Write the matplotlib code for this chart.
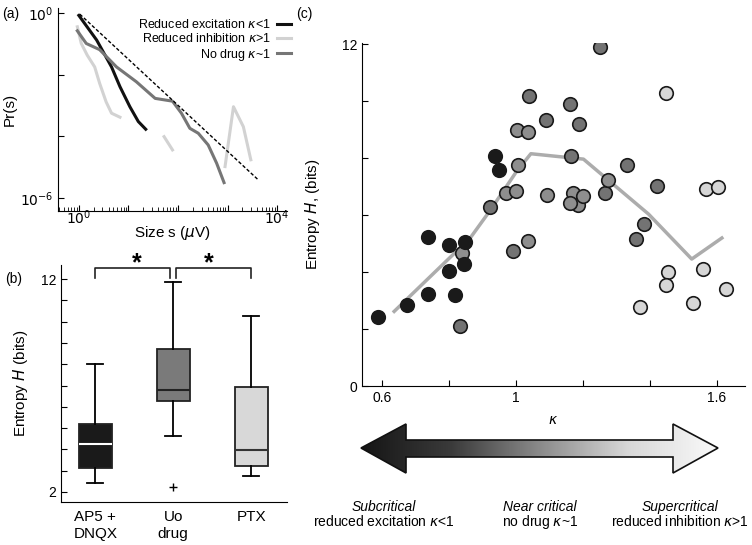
import matplotlib
matplotlib.use("Agg")
import matplotlib.pyplot as plt
import numpy as np
from matplotlib.patches import Polygon
from matplotlib.colors import LinearSegmentedColormap

plt.rcParams["font.family"] = ["Liberation Sans", "DejaVu Sans"]
plt.rcParams["mathtext.fontset"] = "dejavusans"

# ---- panel (a): avalanche size distributions (log10 units) ----
exc_logs = [0.0, 0.36, 0.66, 0.83, 1.03, 1.2, 1.35]
exc_logp = [-0.08, -0.88, -1.75, -2.39, -3.04, -3.52, -3.77]
inh_logs = [-0.03, 0.05, 0.17, 0.32, 0.42, 0.55, 0.66, 0.83, np.nan, 1.72, 1.89, np.nan, 2.95, 3.12, 3.32, 3.47]
inh_logp = [-0.45, -0.99, -1.37, -1.75, -2.28, -2.88, -3.25, -3.38, np.nan, -4.01, -4.44, np.nan, -4.98, -3.04, -3.69, -4.76]
nod_logs = [-0.03, 0.15, 0.42, 0.76, 1.16, 1.54, 1.89, 2.07, 2.24, 2.41, 2.61, 2.78, 2.93]
nod_logp = [-0.58, -0.99, -1.19, -1.75, -2.23, -2.77, -2.86, -3.25, -3.74, -3.90, -4.28, -4.87, -5.50]
fit_logs = [0.02, 3.62]
fit_logp = [-0.04, -5.41]

# ---- panel (b): entropy box plots ----
groups = ["AP5 +\nDNQX", "Uo\ndrug", "PTX"]
box_low = [2.42, 4.62, 2.74]
box_q1 = [3.13, 6.28, 3.24]
box_med = [4.27, 6.78, 3.99]
box_q3 = [5.18, 8.71, 6.94]
box_high = [8.03, 11.87, 10.26]
box_fliers = [[], [2.24], []]
star_x = [1.53, 2.46]

# ---- panel (c): entropy vs kappa ----
exc_k = [0.59, 0.675, 0.739, 0.739, 0.80, 0.80, 0.819, 0.849, 0.846, 0.939, 0.949]
exc_h = [2.43, 2.85, 5.22, 3.23, 4.97, 4.03, 3.18, 5.06, 4.28, 8.08, 7.60]
nod1_k = [1.039, 1.25, 1.09, 1.163, 1.19, 1.165, 1.332, 1.42, 1.358, 1.383, 1.266, 0.832, 0.993, 0.922]
nod1_h = [10.2, 11.9, 9.36, 9.91, 9.2, 8.08, 7.77, 7.03, 5.18, 5.7, 6.79, 2.1, 4.73, 6.29]
nod2_k = [1.005, 1.037, 1.007, 0.972, 1.0, 1.092, 1.172, 1.185, 1.2, 1.162, 1.274, 0.84, 1.035]
nod2_h = [9.0, 8.92, 7.77, 6.77, 6.85, 6.72, 6.77, 6.37, 6.69, 6.43, 7.24, 4.67, 5.09]
inh_k = [1.447, 1.567, 1.603, 1.454, 1.447, 1.37, 1.528, 1.558, 1.628]
inh_h = [10.28, 6.91, 7.0, 4.01, 3.56, 2.78, 2.90, 4.11, 3.42]
mean_k = [0.637, 0.864, 0.923, 1.003, 1.045, 1.202, 1.396, 1.525, 1.615]
mean_h = [2.62, 5.20, 6.16, 7.55, 8.16, 7.97, 6.04, 4.46, 5.20]

W, H = 752, 545
fig = plt.figure(figsize=(W / 100, H / 100), dpi=100)

# ================= (a) =================
axa = fig.add_axes([58 / W, 1 - 211 / H, 229 / W, 203 / H])
axa.plot(10 ** np.array(exc_logs), 10 ** np.array(exc_logp), color="#111111", lw=2.2, label=r"Reduced excitation $\kappa$<1")
axa.plot(10 ** np.array(inh_logs), 10 ** np.array(inh_logp), color="#d2d2d2", lw=2.2, label=r"Reduced inhibition $\kappa$>1")
axa.plot(10 ** np.array(nod_logs), 10 ** np.array(nod_logp), color="#767676", lw=2.2, label=r"No drug $\kappa$~1")
axa.plot(10 ** np.array(fit_logs), 10 ** np.array(fit_logp), color="black", lw=1, ls=(0, (2.5, 1.5)))
axa.set_xscale("log")
axa.set_yscale("log")
axa.set_xlim(10 ** -0.42, 10 ** 4.2)
axa.set_ylim(10 ** -6.42, 10 ** 0.16)
axa.set_yticks([1e0, 1e-2, 1e-4, 1e-6])
axa.set_yticklabels([r"$10^0$", "", "", r"$10^{-6}$"])
axa.yaxis.set_minor_locator(matplotlib.ticker.NullLocator())
axa.set_xticks([1e0, 1e1, 1e2, 1e3, 1e4])
axa.set_xticklabels([r"$10^0$", "", "", "", r"$10^4$"])
axa.xaxis.set_minor_locator(matplotlib.ticker.LogLocator(base=10, subs=np.arange(2, 10), numticks=20))
axa.tick_params(direction="in", labelsize=10, length=4, width=0.8)
axa.tick_params(axis="x", pad=-2)
axa.tick_params(axis="x", which="minor", direction="in", length=3, width=0.6)
for s in ["top", "right"]:
    axa.spines[s].set_visible(False)
axa.set_xlabel(r"Size s ($\mu$V)", fontsize=11, labelpad=-2)
axa.set_ylabel("Pr(s)", fontsize=11, labelpad=2)
axa.legend(loc="upper right", bbox_to_anchor=(1.04, 0.975), frameon=False, markerfirst=False,
           fontsize=9, handlelength=1.1, handletextpad=0.5, labelspacing=0.1, borderaxespad=0)
fig.text(2 / W, 1 - 14 / H, "(a)", fontsize=10, va="center")

# ================= (b) =================
axb = fig.add_axes([61 / W, 1 - 502 / H, 226 / W, 237 / H])
stats = []
for i in range(3):
    stats.append(dict(whislo=box_low[i], q1=box_q1[i], med=box_med[i], q3=box_q3[i],
                      whishi=box_high[i], fliers=box_fliers[i], label=groups[i]))
bp = axb.bxp(stats, positions=[1, 2, 3], widths=0.42, capwidths=0.2, patch_artist=True,
             flierprops=dict(marker="+", markeredgecolor="black", markersize=6),
             boxprops=dict(linewidth=1.3), whiskerprops=dict(linewidth=1.3),
             capprops=dict(linewidth=1.3), medianprops=dict(linewidth=1.5))
box_colors = ["#1a1a1a", "#7a7a7a", "#d8d8d8"]
med_colors = ["white", "#222222", "#333333"]
for patch, c in zip(bp["boxes"], box_colors):
    patch.set_facecolor(c)
    patch.set_edgecolor("#222222")
for m, c in zip(bp["medians"], med_colors):
    m.set_color(c)
axb.set_xlim(0.56, 3.46)
axb.set_ylim(1.53, 12.66)
axb.set_yticks(np.arange(2, 13))
axb.set_yticklabels(["2"] + [""] * 9 + ["12"])
axb.tick_params(axis="y", direction="in", labelsize=10, length=4, width=0.8)
axb.tick_params(axis="x", length=0, labelsize=11, pad=6)
for s in ["top", "right"]:
    axb.spines[s].set_visible(False)
axb.set_ylabel(r"Entropy $H$ (bits)", fontsize=11, labelpad=8)
# significance brackets
for x0, x1 in [(1, 1.96), (2.04, 3)]:
    axb.plot([x0, x0, x1, x1], [12.05, 12.52, 12.52, 12.05], color="#222222", lw=1.2, clip_on=False)
for sx in star_x:
    axb.text(sx, 12.72, "*", fontsize=18, ha="center", va="center", fontweight="bold")
fig.text(5 / W, 1 - 279 / H, "(b)", fontsize=10, va="center")

# ================= (c) =================
axc = fig.add_axes([362 / W, 1 - 386 / H, 383 / W, 343 / H])
axc.plot(mean_k, mean_h, color="#acacac", lw=2.5, zorder=1)
mk = dict(s=95, edgecolors="#1a1a1a", linewidths=1.2, zorder=3)
axc.scatter(nod1_k, nod1_h, color="#737373", **mk)
axc.scatter(nod2_k, nod2_h, color="#8e8e8e", **mk)
axc.scatter(inh_k, inh_h, color="#d6d6d6", **mk)
axc.scatter(exc_k, exc_h, color="#1a1a1a", **mk)
axc.set_xlim(0.541, 1.684)
axc.set_ylim(0, 12.05)
axc.set_xticks([0.6, 0.8, 1.0, 1.2, 1.4, 1.6])
axc.set_xticklabels(["0.6", "", "1", "", "", "1.6"])
axc.set_yticks(np.arange(0, 13, 2))
axc.set_yticklabels(["0", "", "", "", "", "", "12"])
axc.tick_params(direction="in", labelsize=10, length=4, width=0.8)
for s in ["top", "right"]:
    axc.spines[s].set_visible(False)
axc.set_ylabel(r"Entropy $H$, (bits)", fontsize=11, labelpad=14)
axc.set_xlabel(r"$\kappa$", fontsize=10, labelpad=6)
fig.text(296 / W, 1 - 14 / H, "(c)", fontsize=10, va="center")

# ================= gradient arrow =================
axo = fig.add_axes([0, 0, 1, 1], zorder=-1)
axo.set_xlim(0, W)
axo.set_ylim(H, 0)
axo.axis("off")
arrow_pts = [(361, 448), (406, 424), (406, 440), (673, 440), (673, 424), (718, 448),
             (673, 473), (673, 457), (406, 457), (406, 473)]
poly = Polygon(arrow_pts, closed=True, facecolor="none", edgecolor="#111111", lw=1.2, zorder=3)
axo.add_patch(poly)
cmap = LinearSegmentedColormap.from_list("g", ["#151515", "#3a3a3a", "#8a8a8a", "#d8d8d8", "#fafafa"])
grad = np.linspace(0, 1, 256).reshape(1, -1)
im = axo.imshow(grad, cmap=cmap, extent=[361, 718, 473, 424], aspect="auto", zorder=2)
im.set_clip_path(poly)
axo.set_xlim(0, W)
axo.set_ylim(H, 0)

labels_top = ["Subcritical", "Near critical", "Supercritical"]
labels_bot = [r"reduced excitation $\kappa$<1", r"no drug $\kappa$~1", r"reduced inhibition $\kappa$>1"]
label_x = [384, 540, 680]
for x, t1, t2 in zip(label_x, labels_top, labels_bot):
    axo.text(x, 507, t1, fontsize=10, style="italic", ha="center", va="center")
    axo.text(x, 522, t2, fontsize=10, ha="center", va="center")

fig.savefig("out.png", dpi=100)
